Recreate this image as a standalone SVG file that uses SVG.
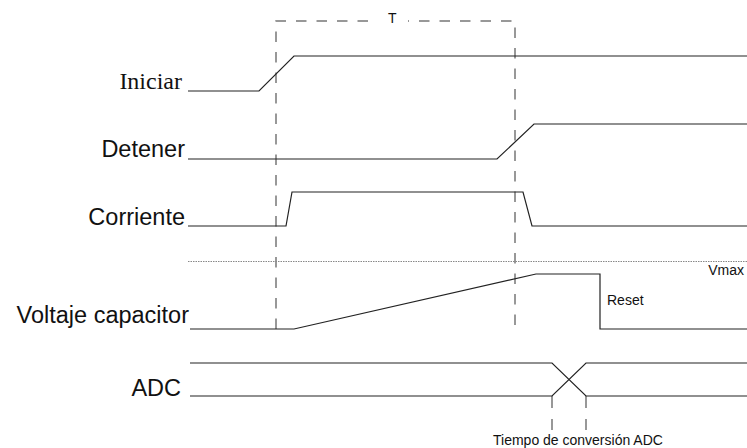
<svg xmlns="http://www.w3.org/2000/svg" width="747" height="448" viewBox="0 0 747 448">
<style>
.bg{fill:#fff}
.lbl{font-family:"Liberation Sans",Arial,sans-serif;font-size:23.5px;fill:#111;text-anchor:end}
.ser{font-family:"Liberation Serif","Times New Roman",serif;font-size:24px;fill:#111;text-anchor:end}
.sm{font-family:"Liberation Sans",Arial,sans-serif;font-size:14px;fill:#111}
.sig{fill:none;stroke:#222;stroke-width:1.2}
.dash{fill:none;stroke:#777;stroke-width:1.5;stroke-dasharray:10.5 10}
.dot{fill:none;stroke:#888;stroke-width:1;stroke-dasharray:1.5 1}
</style>
<rect class="bg" x="0" y="0" width="747" height="448"/>
<g id="markers">
<path class="dash" d="M276,329 V21 H515 V329"/>
<rect x="377" y="10" width="31" height="16" fill="#fff"/>
<text class="sm" x="388" y="23" font-size="13">T</text>
<path class="dash" d="M552,396 V430 M586,396 V430" style="stroke-dasharray:12 11"/>
<text class="sm" x="493" y="444.5">Tiempo de conversión ADC</text>
</g>
<g id="iniciar">
<text class="ser" x="182" y="89">Iniciar</text>
<path class="sig" d="M188,91 H259 L294,56 H747"/>
</g>
<g id="detener">
<text class="lbl" x="185" y="157">Detener</text>
<path class="sig" d="M188,159 H497 L534,124 H747"/>
</g>
<g id="corriente">
<text class="lbl" x="185" y="225">Corriente</text>
<path class="sig" d="M188,226 H286 L292,192 H523 L532,226 H747"/>
</g>
<g id="vmax">
<path class="dot" d="M188,261.5 H747"/>
<text class="sm" x="744" y="275" text-anchor="end">Vmax</text>
</g>
<g id="voltaje">
<text class="lbl" x="189" y="323">Voltaje capacitor</text>
<path class="sig" d="M190,329 H294 L536,274 H600 V329 H747"/>
<text class="sm" x="607" y="305">Reset</text>
</g>
<g id="adc">
<text class="lbl" x="181" y="396">ADC</text>
<path class="sig" d="M190,363 H552 L586,396 H747 M190,396 H552 L586,363 H747"/>
</g>
</svg>
